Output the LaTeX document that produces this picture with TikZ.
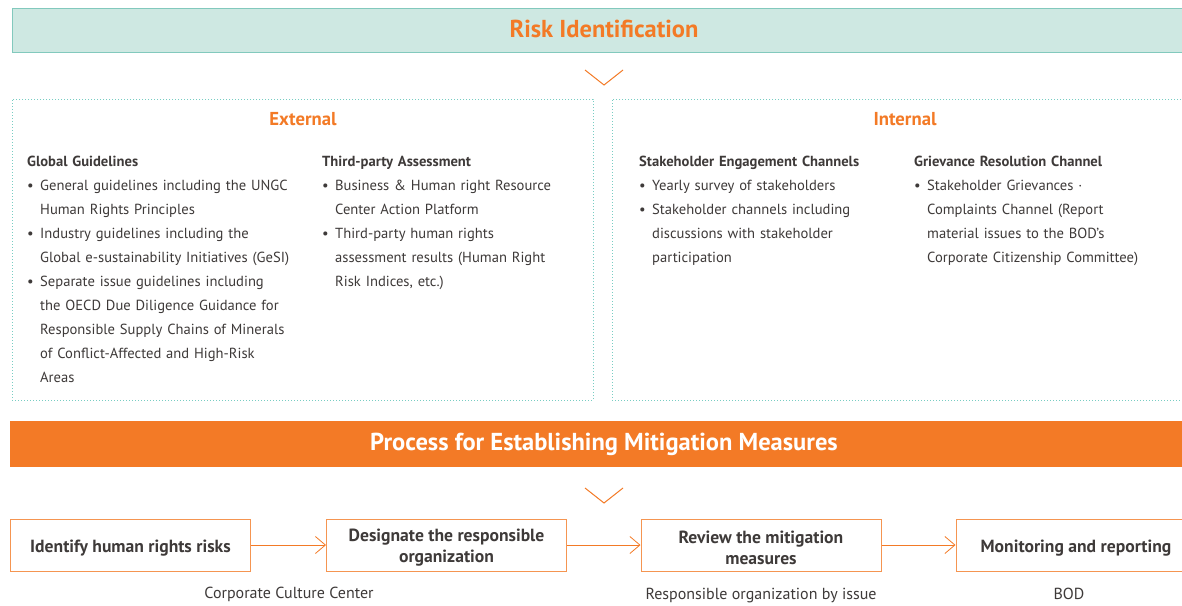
\documentclass[tikz,border=0pt]{standalone}
\usepackage{fontspec}
\setmainfont{PT Sans}
\usetikzlibrary{arrows.meta,positioning}
\definecolor{TealFill}{RGB}{206,232,226}
\definecolor{TealLine}{RGB}{130,201,189}
\definecolor{DotTeal}{RGB}{120,205,195}
\definecolor{RiskOrange}{RGB}{243,122,38}
\definecolor{BodyGray}{RGB}{62,58,57}

\newcommand{\colhead}[1]{\textbf{#1}\par}
\newcommand{\colitem}[1]{\hangindent=13pt\hangafter=1\makebox[13pt][l]{\textbullet}#1\par}
\newcommand{\boxstrut}{\rule{0pt}{18pt}}

\tikzset{
  banner/.style={minimum height=44pt, inner sep=0pt, font=\fontsize{24.5pt}{28pt}\selectfont\bfseries},
  panel/.style={draw=DotTeal, line width=0.8pt, dash pattern=on 1pt off 2pt, inner sep=0pt},
  panelhead/.style={text=RiskOrange, font=\fontsize{18.7pt}{22pt}\selectfont\bfseries},
  colblock/.style={anchor=north west, inner sep=0pt, text width=300pt,
    text=BodyGray, font=\fontsize{14.6pt}{24pt}\selectfont\raggedright},
  stepbox/.style={draw=RiskOrange!80, line width=1pt, fill=white, minimum width=240pt,
    minimum height=52pt, inner sep=0pt, text=BodyGray, align=center,
    font=\fontsize{17.6pt}{21pt}\selectfont\bfseries},
  owner/.style={text=BodyGray, font=\fontsize{16pt}{18pt}\selectfont},
  flow/.style={draw=RiskOrange, line width=0.8pt, -{Straight Barb[length=10pt,width=17pt]}},
  chevron/.style={draw=RiskOrange, line width=1pt},
}

\begin{document}
\begin{tikzpicture}[x=1pt, y=-1pt]
  \clip (0,0) rectangle (1182,605);
  \fill[white] (0,0) rectangle (1182,605);

  % risk identification
  \node[banner, fill=TealFill, draw=TealLine, minimum width=1184pt, text=RiskOrange] (risk) at (604,30) {\raisebox{2pt}{Risk Identification}};
  \draw[chevron] (585,70) -- (604,85) -- (623,70);

  \node[panel, minimum width=581pt, minimum height=301pt] (ext) at (302.5,249.5) {};
  \node[panel, minimum width=590pt, minimum height=301pt] (int) at (907,249.5) {};
  \node[panelhead] (exthead) at (303,119) {External};
  \node[panelhead] (inthead) at (905,119) {Internal};

  \node[colblock] (global) at (27,155.5) {%
    \colhead{Global Guidelines}
    \colitem{General guidelines including the UNGC\newline Human Rights Principles}
    \colitem{Industry guidelines including the\newline Global e-sustainability Initiatives (GeSI)}
    \colitem{Separate issue guidelines including\newline the OECD Due Diligence Guidance for\newline Responsible Supply Chains of Minerals\newline of Conflict-Affected and High-Risk\newline Areas}};
  \node[colblock] (third) at (322,155.5) {%
    \colhead{Third-party Assessment}
    \colitem{Business \& Human right Resource\newline Center Action Platform}
    \colitem{Third-party human rights\newline assessment results (Human Right\newline Risk Indices, etc.)}};
  \node[colblock] (stake) at (639,155.5) {%
    \colhead{Stakeholder Engagement Channels}
    \colitem{Yearly survey of stakeholders}
    \colitem{Stakeholder channels including\newline discussions with stakeholder\newline participation}};
  \node[colblock] (grieve) at (914,155.5) {%
    \colhead{Grievance Resolution Channel}
    \colitem{Stakeholder Grievances ·\newline Complaints Channel (Report\newline material issues to the BOD's\newline Corporate Citizenship Committee)}};

  % mitigation measures
  \node[banner, fill=RiskOrange, minimum width=1188pt, minimum height=46pt, text=white] (proc) at (604,444) {\raisebox{2pt}{Process for Establishing Mitigation Measures}};
  \draw[chevron] (585,488) -- (604,503) -- (623,488);

  \node[stepbox] (identify) at (130.5,545) {\boxstrut Identify human rights risks};
  \node[stepbox] (designate) at (446.5,545) {\boxstrut Designate the responsible\\organization};
  \node[stepbox] (review) at (761,545) {\boxstrut Review the mitigation\\measures};
  \node[stepbox] (monitor) at (1076,545) {\boxstrut Monitoring and reporting};

  \draw[flow] (identify) -- (designate);
  \draw[flow] (designate) -- (review);
  \draw[flow] (review) -- (monitor);

  \node[owner] (culture) at (289,594) {Corporate Culture Center};
  \node[owner, below=13pt of review] (issue) {Responsible organization by issue};
  \node[owner] (bod) at (1069,594) {BOD};
\end{tikzpicture}
\end{document}
